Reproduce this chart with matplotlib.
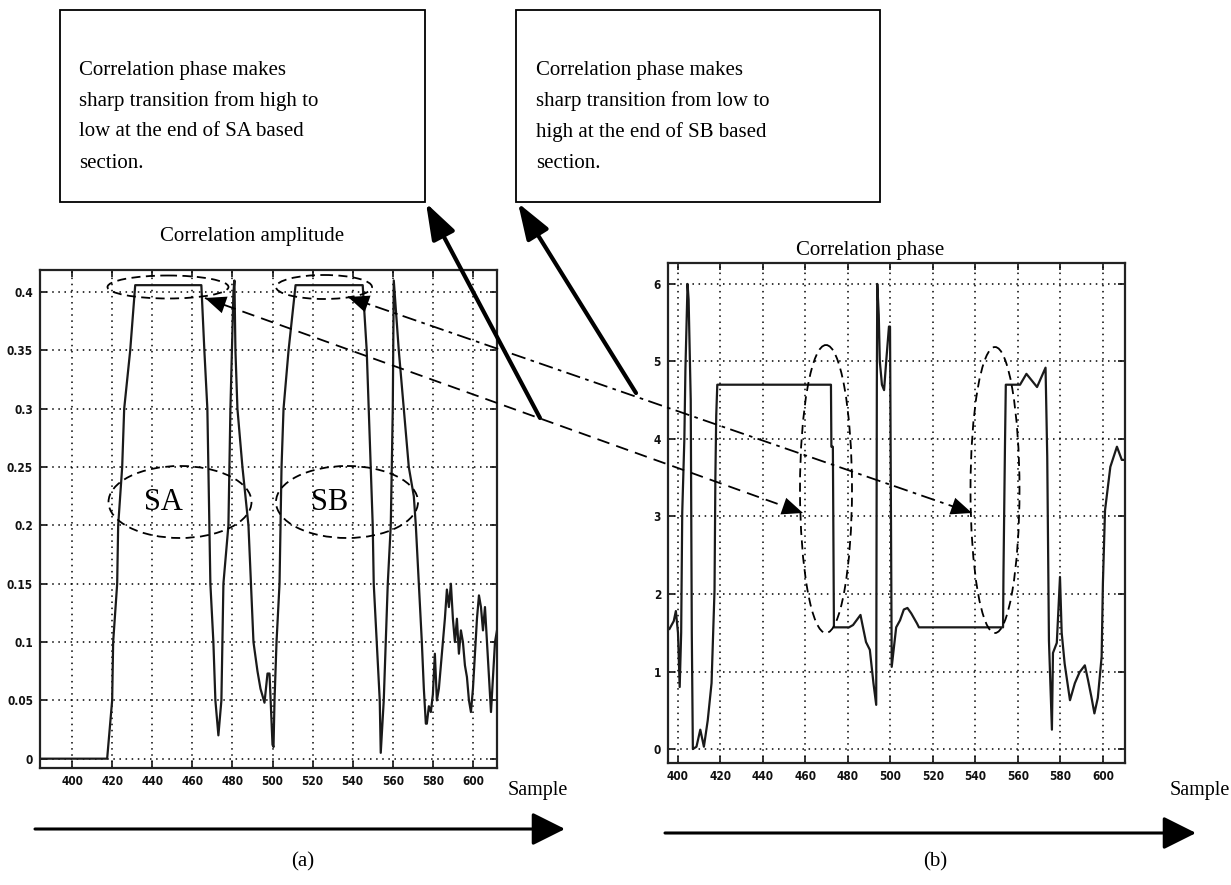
import matplotlib
matplotlib.use('Agg')
import matplotlib.pyplot as plt
from matplotlib.patches import Ellipse, Rectangle, FancyArrowPatch
from matplotlib.font_manager import FontProperties

# ---------------- data ----------------
amp_x = [384, 417.5, 418.5, 420, 420.5, 422.5, 423, 425, 426, 429, 431.5, 464.5,
         466, 467.5, 468, 468.5, 469, 470.5, 471.5, 473, 474.5, 475, 475.5, 478, 479,
         480.5, 481, 481.5, 482.5, 485, 488, 490.5, 492.5, 494, 496, 497.5, 498.5,
         500, 500.5, 501, 502, 503.5, 504, 504.5, 505.5, 508, 511.5, 545,
         547, 549, 550, 550.5, 552, 553.5, 554, 555.5, 556.5, 557.5, 559, 560, 560.5,
         563, 565.5, 568, 570.5, 571.5, 573, 574.5, 575.5, 576.5,
         577, 578, 579, 580, 581, 582, 583, 584, 585, 586, 587, 588, 589, 590, 591,
         592, 593, 594, 595, 596, 597, 598, 599, 600, 601, 602, 603, 604, 605, 606,
         607, 608, 609, 610, 611, 612]
amp_y = [0, 0, 0.02, 0.05, 0.1, 0.15, 0.2, 0.25, 0.3, 0.35, 0.406, 0.406,
         0.35, 0.3, 0.25, 0.2, 0.15, 0.1, 0.05, 0.02, 0.05, 0.1, 0.15, 0.2, 0.3,
         0.4, 0.41, 0.35, 0.3, 0.25, 0.2, 0.1, 0.075, 0.06, 0.048, 0.073, 0.073,
         0.012, 0.01, 0.05, 0.1, 0.15, 0.2, 0.25, 0.3, 0.35, 0.406, 0.406,
         0.35, 0.25, 0.2, 0.15, 0.1, 0.05, 0.005, 0.05, 0.1, 0.15, 0.2, 0.3, 0.41,
         0.35, 0.3, 0.25, 0.225, 0.2, 0.15, 0.1, 0.06, 0.03,
         0.03, 0.045, 0.04, 0.055, 0.09, 0.05, 0.06, 0.08, 0.1, 0.12, 0.145, 0.13,
         0.15, 0.12, 0.1, 0.12, 0.09, 0.11, 0.1, 0.08, 0.07, 0.05, 0.04, 0.06, 0.09,
         0.12, 0.14, 0.13, 0.11, 0.13, 0.1, 0.07, 0.04, 0.07, 0.1, 0.11]

phase_x = [396, 397, 398, 399, 400, 400.8, 401.5, 402, 403, 403.5, 404.5, 405, 406,
           406.5, 407, 408.7, 410.5, 412.2, 414, 415.8, 417.2, 417.6, 418, 418.5,
           472, 472.2, 472.9, 473.4, 480.5, 482.4, 485.9, 486.7, 488.5, 490.3, 492,
           493.3, 493.6, 493.8, 494.5, 495, 496, 497, 498, 499.3, 499.8, 500.6,
           502.7, 504.5, 506.3, 508, 509.8, 512.5, 513.4, 553, 553.2, 553.9, 554.3,
           561, 564, 569, 573, 573.8, 574.6, 576, 576.5, 578.3, 579.8, 580.6, 582,
           584.5, 586.8, 589, 591.5, 593, 594.6, 596, 597.6, 599.4, 600, 601, 603.5,
           606.6, 608.9, 611]
phase_y = [1.55, 1.6, 1.65, 1.78, 1.5, 0.8, 1.5, 3.05, 4.0, 4.9, 6.0, 5.8, 4.5,
           1.5, 0.0, 0.03, 0.25, 0.03, 0.37, 0.85, 2.05, 3.5, 4.3, 4.7,
           4.7, 3.9, 3.9, 1.57, 1.57, 1.6, 1.73, 1.62, 1.38, 1.28, 0.85,
           0.57, 4.7, 6.0, 5.6, 5.0, 4.7, 4.63, 5.0, 5.45, 5.45, 1.06,
           1.57, 1.66, 1.8, 1.82, 1.75, 1.62, 1.57, 1.57, 2.27, 3.9, 4.7,
           4.7, 4.84, 4.67, 4.92, 3.77, 1.4, 0.25, 1.24, 1.37, 2.22, 1.5, 1.1,
           0.63, 0.85, 0.99, 1.08, 0.89, 0.67, 0.46, 0.66, 1.19, 2.14, 3.08, 3.64,
           3.9, 3.73, 3.73]

sample_ticks = [400, 420, 440, 460, 480, 500, 520, 540, 560, 580, 600]
amp_ticks = [0, 0.05, 0.1, 0.15, 0.2, 0.25, 0.3, 0.35, 0.4]
amp_tick_labels = ['0', '0.05', '0.1', '0.15', '0.2', '0.25', '0.3', '0.35', '0.4']
phase_ticks = [0, 1, 2, 3, 4, 5, 6]

box_a_lines = ["Correlation phase makes", "sharp transition from high to",
               "low at the end of SA based", "section."]
box_b_lines = ["Correlation phase makes", "sharp transition from low to",
               "high at the end of SB based", "section."]

# ---------------- figure ----------------
W, H = 1231, 885
fig = plt.figure(figsize=(W / 100, H / 100), dpi=100)
fig.patch.set_facecolor('white')

SERIF = ['Liberation Serif', 'DejaVu Serif']
tick_fp = FontProperties(family='DejaVu Sans', stretch='condensed',
                         weight='bold', size=8.5)


def add_axes_px(x0, y0, x1, y1):
    return fig.add_axes([x0 / W, 1 - y1 / H, (x1 - x0) / W, (y1 - y0) / H])


def style(ax):
    ax.grid(True, color='k', linestyle=(0, (1, 3)), linewidth=1.1)
    ax.tick_params(direction='in', length=5, width=1.2, top=True, right=True,
                   pad=5, colors='#111111')
    for lbl in ax.get_xticklabels() + ax.get_yticklabels():
        lbl.set_fontproperties(tick_fp)
    for s in ax.spines.values():
        s.set_linewidth(1.6)
        s.set_color('#222222')


ax1 = add_axes_px(40, 270, 497, 768)
ax1.plot(amp_x, amp_y, color='#1a1a1a', lw=1.6)
ax1.set_xlim(384, 612)
ax1.set_ylim(-0.008, 0.419)
ax1.set_xticks(sample_ticks)
ax1.set_yticks(amp_ticks)
ax1.set_yticklabels(amp_tick_labels)
style(ax1)

ax2 = add_axes_px(668, 263, 1125, 763)
ax2.plot(phase_x, phase_y, color='#1a1a1a', lw=1.6)
ax2.set_xlim(395.3, 610.4)
ax2.set_ylim(-0.18, 6.27)
ax2.set_xticks(sample_ticks)
ax2.set_yticks(phase_ticks)
style(ax2)

# ---------------- overlay annotations (pixel coordinates) ----------------
ov = fig.add_axes([0, 0, 1, 1], zorder=10)
ov.set_xlim(0, W)
ov.set_ylim(H, 0)
ov.axis('off')
ov.patch.set_alpha(0)

# text boxes
ov.add_patch(Rectangle((60, 10), 365, 192, fill=False, lw=1.3, ec='k'))
ov.add_patch(Rectangle((516, 10), 364, 192, fill=False, lw=1.3, ec='k'))
for i, (la, lb) in enumerate(zip(box_a_lines, box_b_lines)):
    y = 70 + i * 31
    ov.text(79, y, la, family=SERIF, fontsize=15, va='center', ha='left')
    ov.text(536, y, lb, family=SERIF, fontsize=15, va='center', ha='left')

ov.text(252, 236, "Correlation amplitude", family=SERIF, fontsize=15,
        ha='center', va='center')
ov.text(870, 250, "Correlation phase", family=SERIF, fontsize=15,
        ha='center', va='center')

# ellipses
dash = (0, (5, 3))
for (cx, cy, w, h) in [(168, 287, 121, 23), (324, 287, 96, 24),
                       (180, 502, 143, 72), (347, 502, 142, 72),
                       (826, 489, 52, 288), (995, 490, 49, 286)]:
    ov.add_patch(Ellipse((cx, cy), w, h, fill=False, ls=dash, lw=1.3, ec='k'))
ov.text(163, 502, "SA", family=SERIF, fontsize=22, ha='center', va='center')
ov.text(330, 502, "SB", family=SERIF, fontsize=22, ha='center', va='center')


def head(tip, frm, scale=15):
    ov.add_patch(FancyArrowPatch(frm, tip, arrowstyle='-|>,head_length=1.0,head_width=0.42',
                                 mutation_scale=scale, lw=0, color='k',
                                 shrinkA=0, shrinkB=0))


# dashed double arrow: SA top ellipse <-> phase drop
p1, p2 = (205, 298), (803, 513)
ov.plot([p1[0], p2[0]], [p1[1], p2[1]], color='k', lw=1.3, ls=(0, (7, 4)))
head(p1, (225, 305))
head(p2, (783, 506))

# dash-dot double arrow: SB top ellipse <-> phase rise
q1, q2 = (348, 297), (972, 513)
ov.plot([q1[0], q2[0]], [q1[1], q2[1]], color='k', lw=1.3, ls=(0, (8, 3, 2, 3)))
head(q1, (368, 304))
head(q2, (952, 506))

# thick arrows to boxes
for a, b in [((540, 418), (426, 203)), ((636, 393), (518, 203))]:
    ov.add_patch(FancyArrowPatch(a, b, arrowstyle='-|>,head_length=1.3,head_width=0.45',
                                 mutation_scale=17, lw=3, color='k',
                                 shrinkA=0, shrinkB=0))

# sample axes arrows
for (x0, x1, y, tx) in [(35, 565, 829, 568), (665, 1196, 833, 1230)]:
    ov.add_patch(FancyArrowPatch((x0, y), (x1, y),
                                 arrowstyle='-|>,head_length=1.2,head_width=0.6',
                                 mutation_scale=17, lw=2.2, color='k',
                                 shrinkA=0, shrinkB=0))
    ov.text(tx, 790, "Sample", family=SERIF, fontsize=14.5, ha='right', va='center')

ov.text(303, 862, "(a)", family=SERIF, fontsize=15, ha='center', va='center')
ov.text(935, 862, "(b)", family=SERIF, fontsize=15, ha='center', va='center')

fig.savefig('out.png', dpi=100, facecolor='white')
